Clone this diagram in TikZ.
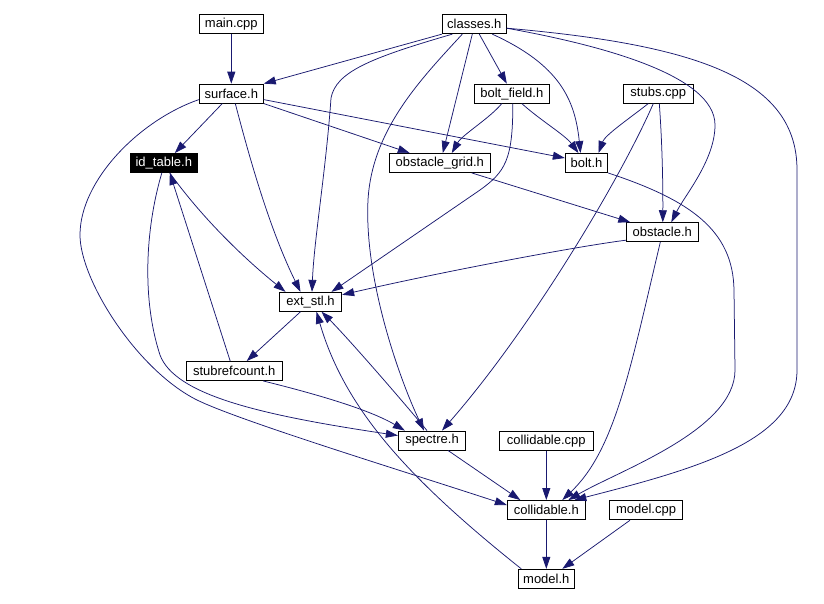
\documentclass[tikz,border=0pt]{standalone}
\usepackage{fontspec}
\setmainfont{Liberation Sans}
\usetikzlibrary{arrows.meta}
\definecolor{edgeblue}{RGB}{25,25,112}
\begin{document}
\begin{tikzpicture}[x=1pt,y=-1pt,
  filebox/.style={draw=black, line width=0.9pt, fill=white, inner sep=0pt,
    minimum height=19pt, font=\fontsize{13}{15}\selectfont, text=black},
  focusbox/.style={filebox, fill=black, text=white},
  dep/.style={draw=edgeblue, line width=0.75pt, -{Triangle[length=12pt,width=8pt]}}]
\useasboundingbox[fill=white] (0,0) rectangle (824,603);

% nodes
\node[filebox, minimum width=64pt]  (main)    at (231.3,24.2)  {main.cpp};
\node[filebox, minimum width=64pt]  (classes) at (474.3,24.2)  {classes.h};
\node[filebox, minimum width=64pt]  (surface) at (231.3,93.6)  {surface.h};
\node[filebox, minimum width=75pt]  (boltf)   at (511.8,93.6)  {bolt\_field.h};
\node[filebox, minimum width=70pt]  (stubs)   at (658.3,93.6)  {stubs.cpp};
\node[focusbox, minimum width=67.7pt] (idt)   at (163.8,163)   {id\_table.h};
\node[filebox, minimum width=101pt] (ogrid)   at (439.8,163)   {obstacle\_grid.h};
\node[filebox, minimum width=42.4pt] (bolt)   at (586.5,163)   {bolt.h};
\node[filebox, minimum width=72pt]  (obst)    at (662.3,232.2) {obstacle.h};
\node[filebox, minimum width=62.4pt] (estl)   at (310.5,301.8) {ext\_stl.h};
\node[filebox, minimum width=96.3pt] (srefc)  at (234.2,371)   {stubrefcount.h};
\node[filebox, minimum width=67.4pt] (spec)   at (432,440.5)   {spectre.h};
\node[filebox, minimum width=94pt]  (ccpp)    at (546.3,440.8) {collidable.cpp};
\node[filebox, minimum width=78pt]  (coll)    at (546.3,510)   {collidable.h};
\node[filebox, minimum width=73.4pt] (mcpp)   at (646,510.3)   {model.cpp};
\node[filebox, minimum width=56pt]  (model)   at (546.3,578.8) {model.h};

% edges
\draw[dep] (main.south) -- (surface.north);
\draw[dep] (classes.south west) -- (surface.north east);
\draw[dep] ([xshift=-22pt]classes.south) .. controls (370,58) and (336,72) .. (331,98)
   .. controls (326,170) and (314,240) .. ([xshift=1.5pt]estl.north);
\draw[dep] ([xshift=-12pt]classes.south) .. controls (420,80) and (372,130) .. (368,200)
   .. controls (364,280) and (400,380) .. ([xshift=-8pt]spec.north);
\draw[dep] ([xshift=-2pt]classes.south) -- ([xshift=3pt]ogrid.north);
\draw[dep] ([xshift=5pt]classes.south) -- ([xshift=-5pt]boltf.north);
\draw[dep] ([xshift=18pt]classes.south) .. controls (560,65) and (575,100) .. ([xshift=-6pt]bolt.north);
\draw[dep] ([yshift=-4pt]classes.east) .. controls (600,45) and (715,75) .. (715,125)
   .. controls (715,160) and (685,195) .. ([xshift=9pt]obst.north);
\draw[dep] ([yshift=-4pt]classes.east) .. controls (700,45) and (797,80) .. (797,170)
   -- (797,370) .. controls (797,440) and (700,468) .. ([xshift=28pt]coll.north);

\draw[dep] ([xshift=-9pt]surface.south) -- ([xshift=11pt]idt.north);
\draw[dep] ([xshift=4pt]surface.south) .. controls (250,160) and (270,230) .. ([xshift=-10pt]estl.north);
\draw[dep] (surface.south east) -- ([xshift=-30pt]ogrid.north);
\draw[dep] ([yshift=-6pt]surface.east) -- ([yshift=5pt]bolt.west);
\draw[dep] ([yshift=-6pt]surface.west) .. controls (140,120) and (80,180) .. (80,235)
   .. controls (80,280) and (137,370) .. (197,400)
   .. controls (240,421) and (400,470) .. ([yshift=5pt]coll.west);

\draw[dep] ([xshift=-10pt]boltf.south) .. controls (490,118) and (462,135) .. ([xshift=12pt]ogrid.north);
\draw[dep] ([xshift=10pt]boltf.south) .. controls (540,120) and (565,135) .. ([xshift=-8pt]bolt.north);
\draw[dep] ([xshift=1pt]boltf.south) .. controls (513,160) and (505,172) .. (480,190)
   -- ([xshift=21pt]estl.north);

\draw[dep] ([xshift=-10pt]stubs.south) .. controls (630,118) and (605,135) .. ([xshift=12pt]bolt.north);
\draw[dep] ([xshift=1pt]stubs.south) .. controls (662,140) and (663,180) .. ([xshift=0.5pt]obst.north);
\draw[dep] ([xshift=-5pt]stubs.south) .. controls (620,180) and (530,330) .. ([xshift=10pt]spec.north);

\draw[dep] ([xshift=6pt]idt.south) .. controls (200,215) and (240,255) .. ([xshift=-25pt]estl.north);
\draw[dep] ([xshift=-2pt]idt.south) .. controls (145,230) and (142,300) .. (160,355)
   .. controls (175,395) and (260,415) .. ([yshift=5pt]spec.west);

\draw[dep] ([xshift=32pt]ogrid.south) -- ([xshift=-32pt]obst.north);

\draw[dep] (bolt.south east) .. controls (690,200) and (733,230) .. (734,290)
   -- (735,370) .. controls (735,430) and (620,470) .. ([xshift=22pt]coll.north);

\draw[dep] ([yshift=-8pt]obst.west) .. controls (580,246) and (450,270) .. ([yshift=7pt]estl.east);
\draw[dep] ([xshift=-2pt]obst.south) .. controls (630,370) and (615,450) .. ([xshift=16pt]coll.north);

\draw[dep] ([xshift=-10pt]estl.south) -- ([xshift=12.5pt]srefc.north);
\draw[dep] ([xshift=-4pt]srefc.north) -- ([xshift=6pt]idt.south);
\draw[dep] ([xshift=29pt]srefc.south) .. controls (320,395) and (370,410) .. ([xshift=7pt]spec.north west);

\draw[dep] ([xshift=-5pt]spec.north) .. controls (395,392) and (345,335) .. ([xshift=11pt]estl.south);
\draw[dep] ([xshift=16pt]spec.south) -- ([xshift=-26pt]coll.north);

\draw[dep] (ccpp.south) -- (coll.north);
\draw[dep] (coll.south) -- (model.north);
\draw[dep] ([xshift=-16pt]mcpp.south) -- ([xshift=16pt]model.north);
\draw[dep] ([xshift=-25pt]model.north) .. controls (410,480) and (345,410) .. ([xshift=6pt]estl.south);
\end{tikzpicture}
\end{document}
